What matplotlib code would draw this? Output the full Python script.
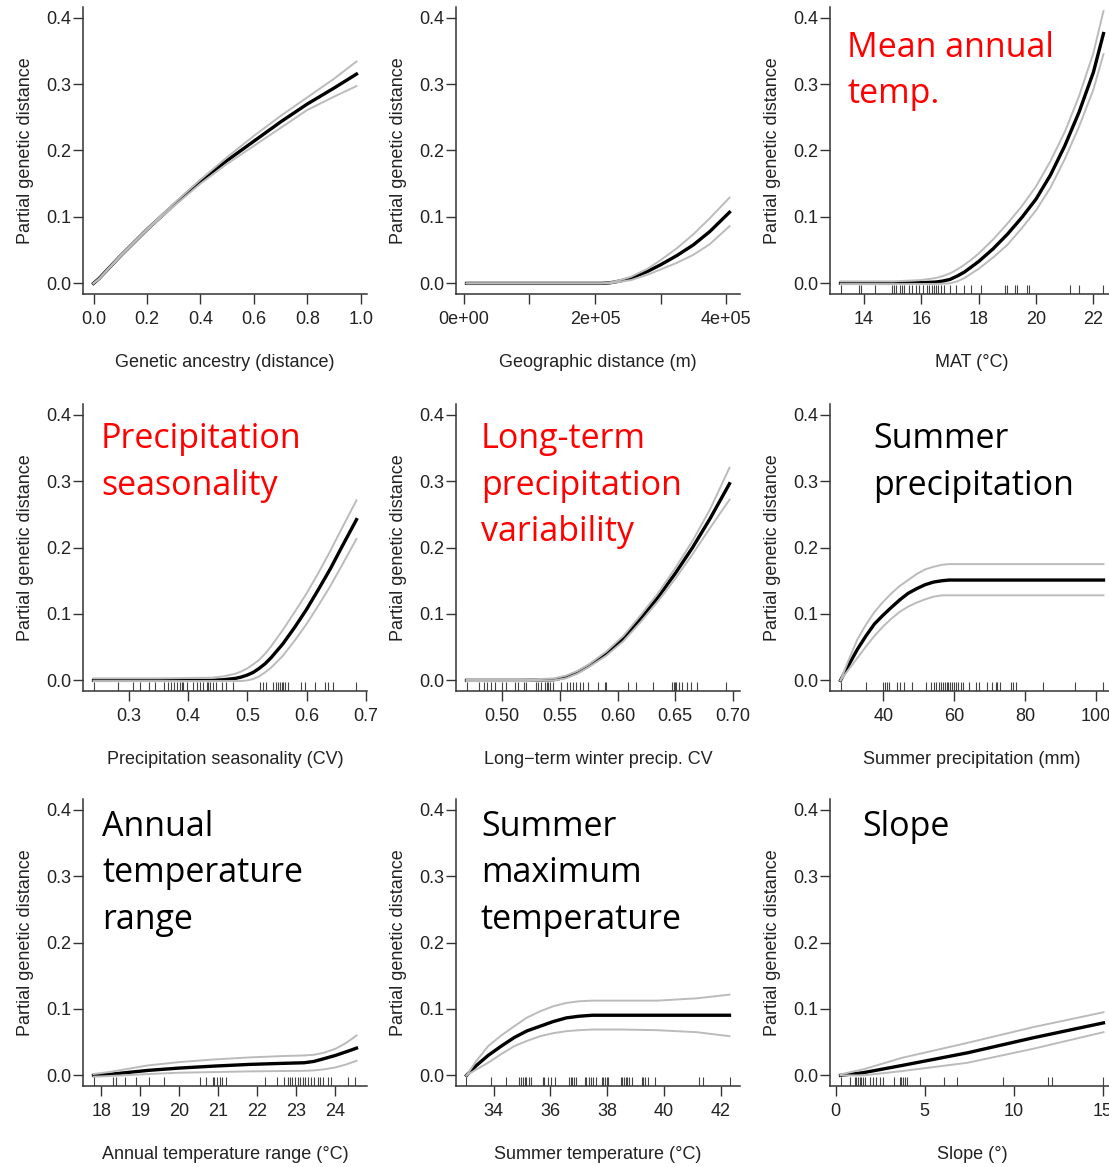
import matplotlib
matplotlib.use('Agg')
import matplotlib.pyplot as plt

plt.rcParams['font.family'] = ['Liberation Sans', 'DejaVu Sans']

# ---- data (x, fitted curve, upper / lower band, rug) ----

# Genetic ancestry
anc_x = [0.0, 0.02, 0.1, 0.2, 0.3, 0.4, 0.5, 0.6, 0.7, 0.8, 0.9, 0.984]
anc_fit = [0.0, 0.007, 0.041, 0.081, 0.118, 0.154, 0.185, 0.214, 0.243, 0.270, 0.294, 0.315]
anc_up = [0.0, 0.007, 0.042, 0.082, 0.120, 0.156, 0.190, 0.222, 0.252, 0.280, 0.308, 0.334]
anc_lo = [0.0, 0.006, 0.040, 0.080, 0.116, 0.150, 0.180, 0.207, 0.234, 0.261, 0.281, 0.297]
anc_rug = []

# Geographic distance
geo_x = [4e3, 1e5, 2.1e5, 2.2e5, 2.3e5, 2.42e5, 2.55e5, 2.8e5, 3.0e5, 3.25e5, 3.5e5, 3.75e5, 4.05e5]
geo_fit = [0.0, 0.0, 0.0, 0.0005, 0.002, 0.0045, 0.008, 0.018, 0.028, 0.042, 0.058, 0.078, 0.107]
geo_up = [0.0, 0.0, 0.0, 0.001, 0.003, 0.006, 0.010, 0.022, 0.035, 0.053, 0.074, 0.098, 0.129]
geo_lo = [0.0, 0.0, 0.0, 0.0, 0.001, 0.003, 0.005, 0.013, 0.021, 0.031, 0.043, 0.059, 0.086]
geo_rug = []

# MAT
mat_x = [13.18, 15.0, 16.0, 16.5, 16.75, 17.0, 17.25, 17.5, 17.75, 18.0, 18.5, 19.0, 19.5, 20.0,
         20.5, 21.0, 21.5, 22.0, 22.35]
mat_fit = [0.0, 0.0, 0.001, 0.002, 0.0035, 0.006, 0.011, 0.017, 0.025, 0.033, 0.052, 0.074, 0.099,
           0.127, 0.163, 0.207, 0.258, 0.318, 0.376]
mat_up = [0.003, 0.003, 0.005, 0.008, 0.011, 0.015, 0.021, 0.028, 0.036, 0.045, 0.066, 0.090,
          0.116, 0.146, 0.184, 0.228, 0.282, 0.347, 0.410]
mat_lo = [-0.001, -0.001, -0.001, -0.001, -0.0005, 0.0, 0.003, 0.008, 0.015, 0.022, 0.039, 0.058,
          0.083, 0.110, 0.144, 0.187, 0.236, 0.292, 0.345]
mat_rug = [13.18, 13.82, 13.9, 14.39, 14.99, 15.05, 15.11, 15.26, 15.34, 15.4, 15.58, 15.66,
           15.81, 15.93, 16.04, 16.2, 16.28, 16.36, 16.43, 16.51, 16.59, 16.69, 16.8, 17.01,
           17.21, 17.48, 17.74, 18.09, 18.91, 18.99, 19.26, 19.34, 19.67, 19.75, 21.18, 21.5, 22.35]

# Precipitation seasonality
ps_x = [0.241, 0.35, 0.44, 0.46, 0.47, 0.48, 0.49, 0.50, 0.51, 0.52, 0.53, 0.54, 0.56, 0.58, 0.60,
        0.62, 0.64, 0.66, 0.684]
ps_fit = [0.0, 0.0, 0.0, 0.001, 0.002, 0.003, 0.005, 0.008, 0.012, 0.018, 0.025, 0.034, 0.055,
          0.080, 0.107, 0.137, 0.168, 0.202, 0.242]
ps_up = [0.003, 0.003, 0.004, 0.006, 0.008, 0.010, 0.0135, 0.018, 0.024, 0.031, 0.040, 0.051,
         0.076, 0.103, 0.131, 0.162, 0.195, 0.230, 0.271]
ps_lo = [-0.001, -0.001, -0.001, -0.001, -0.001, -0.001, -0.001, 0.0, 0.002, 0.006, 0.012, 0.019,
         0.037, 0.060, 0.085, 0.113, 0.142, 0.174, 0.213]
ps_rug = [0.241, 0.283, 0.308, 0.32, 0.334, 0.345, 0.359, 0.367, 0.371, 0.376, 0.381, 0.387,
          0.39, 0.392, 0.398, 0.409, 0.415, 0.42, 0.426, 0.432, 0.434, 0.437, 0.443, 0.448,
          0.457, 0.465, 0.476, 0.521, 0.527, 0.532, 0.544, 0.549, 0.552, 0.555, 0.558, 0.56,
          0.563, 0.569, 0.591, 0.597, 0.614, 0.631, 0.636, 0.645, 0.684]

# Long-term winter precip CV
lt_x = [0.469, 0.52, 0.545, 0.555, 0.565, 0.575, 0.59, 0.605, 0.62, 0.635, 0.65, 0.665, 0.68, 0.697]
lt_fit = [0.0, 0.0, 0.001, 0.005, 0.012, 0.022, 0.040, 0.063, 0.093, 0.125, 0.161, 0.200, 0.243, 0.296]
lt_up = [0.001, 0.001, 0.003, 0.007, 0.014, 0.024, 0.043, 0.067, 0.098, 0.131, 0.169, 0.210, 0.257, 0.320]
lt_lo = [-0.001, -0.001, 0.0, 0.003, 0.010, 0.020, 0.037, 0.059, 0.088, 0.119, 0.153, 0.190, 0.229, 0.272]
lt_rug = [0.469, 0.48, 0.484, 0.487, 0.49, 0.494, 0.5, 0.503, 0.511, 0.514, 0.519, 0.521,
          0.529, 0.531, 0.534, 0.537, 0.539, 0.54, 0.541, 0.544, 0.551, 0.556, 0.559, 0.561,
          0.564, 0.567, 0.57, 0.574, 0.583, 0.589, 0.59, 0.609, 0.616, 0.631, 0.647, 0.649,
          0.65, 0.651, 0.653, 0.656, 0.66, 0.664, 0.669, 0.694]

# Summer precipitation
sp_x = [27.9, 30.3, 32.7, 35.1, 37.5, 39.9, 42.3, 44.6, 47.0, 49.4, 51.8, 54.2, 56.6, 58.5, 60.0,
        80.0, 102.2]
sp_fit = [0.0, 0.024, 0.047, 0.067, 0.085, 0.098, 0.110, 0.121, 0.131, 0.138, 0.144, 0.148, 0.150,
          0.151, 0.151, 0.151, 0.151]
sp_up = [0.0, 0.032, 0.062, 0.084, 0.103, 0.118, 0.131, 0.142, 0.151, 0.160, 0.167, 0.171, 0.174,
         0.175, 0.175, 0.175, 0.175]
sp_lo = [0.0, 0.017, 0.034, 0.051, 0.067, 0.081, 0.093, 0.103, 0.111, 0.117, 0.122, 0.126, 0.128,
         0.128, 0.128, 0.128, 0.128]
sp_rug = [27.9, 35.0, 40.0, 40.4, 40.9, 41.6, 44.0, 44.7, 45.8, 48.2, 52.0, 53.4, 54.2, 54.8,
          55.6, 56.2, 56.9, 57.4, 57.9, 58.4, 58.9, 59.3, 60.0, 60.5, 61.1, 61.9, 62.6, 64.2,
          66.1, 67.0, 69.2, 70.8, 71.7, 72.2, 73.1, 76.0, 76.7, 77.4, 85.2, 94.2, 102.2]

# Annual temperature range
atr_x = [17.8, 18.2, 19.2, 20.0, 20.9, 21.8, 22.6, 23.2, 23.45, 23.7, 23.85, 24.0, 24.25, 24.4, 24.54]
atr_fit = [0.0, 0.0015, 0.0075, 0.011, 0.014, 0.0165, 0.018, 0.019, 0.021, 0.025, 0.0275, 0.030,
           0.035, 0.038, 0.041]
atr_up = [0.002, 0.005, 0.015, 0.020, 0.024, 0.027, 0.029, 0.030, 0.031, 0.034, 0.037, 0.040,
          0.048, 0.054, 0.060]
atr_lo = [-0.002, -0.001, 0.002, 0.004, 0.005, 0.006, 0.0065, 0.0068, 0.0075, 0.009, 0.0105, 0.012,
          0.016, 0.019, 0.022]
atr_rug = [17.81, 18.3, 18.38, 18.6, 18.9, 19.21, 19.6, 20.52, 20.69, 20.86, 20.9, 20.96,
           21.03, 21.1, 21.2, 22.2, 22.5, 22.69, 22.78, 22.84, 22.9, 22.97, 23.03, 23.1,
           23.16, 23.23, 23.29, 23.38, 23.46, 23.55, 23.61, 23.69, 23.8, 23.89, 24.31, 24.51]

# Summer temperature
st_x = [33.05, 33.4, 33.81, 34.27, 34.73, 35.18, 35.64, 36.1, 36.56, 37.0, 37.48, 38.5, 39.77,
        41.15, 42.3]
st_fit = [0.0, 0.015, 0.030, 0.044, 0.057, 0.067, 0.074, 0.081, 0.0865, 0.089, 0.0905, 0.0905,
          0.0905, 0.0905, 0.0905]
st_up = [0.0, 0.022, 0.044, 0.060, 0.074, 0.087, 0.0965, 0.104, 0.109, 0.1115, 0.1125, 0.1125,
         0.1125, 0.116, 0.1215]
st_lo = [0.0, 0.009, 0.019, 0.032, 0.044, 0.052, 0.059, 0.0635, 0.0665, 0.068, 0.069, 0.069,
         0.068, 0.065, 0.059]
st_rug = [33.02, 33.91, 34.44, 34.91, 34.97, 35.03, 35.09, 35.14, 35.24, 35.32, 35.73, 35.79,
          35.91, 36.03, 36.15, 36.65, 36.71, 36.77, 36.83, 36.91, 37.21, 37.27, 37.35, 37.42,
          37.5, 37.62, 37.8, 37.86, 37.92, 37.98, 38.04, 38.47, 38.53, 38.59, 38.65, 38.71,
          38.78, 38.86, 39.22, 39.27, 39.33, 39.42, 39.69, 41.22, 41.37, 42.32]

# Slope
sl_x = [0.28, 1.55, 3.75, 7.42, 11.09, 15.05]
sl_fit = [0.0, 0.004, 0.015, 0.034, 0.0565, 0.079]
sl_up = [0.0015, 0.009, 0.0265, 0.049, 0.0725, 0.095]
sl_lo = [0.0, 0.0, 0.0065, 0.019, 0.040, 0.065]
sl_rug = [0.28, 0.79, 1.07, 1.16, 1.26, 1.35, 1.44, 1.54, 1.67, 1.91, 2.1, 2.29, 2.48, 2.66,
          3.28, 3.6, 3.7, 3.79, 3.88, 4.02, 4.73, 6.08, 6.85, 9.38, 11.91, 12.14, 15.05]

# axis labels, ticks and panel notes
xlabels = ['Genetic ancestry (distance)', 'Geographic distance (m)', 'MAT (\u00b0C)',
           'Precipitation seasonality (CV)', 'Long\u2212term winter precip. CV', 'Summer precipitation (mm)',
           'Annual temperature range (\u00b0C)', 'Summer temperature (\u00b0C)', 'Slope (\u00b0)']
xticks = [[0.0, 0.2, 0.4, 0.6, 0.8, 1.0], [0, 1e5, 2e5, 3e5, 4e5], [14, 16, 18, 20, 22],
          [0.3, 0.4, 0.5, 0.6, 0.7], [0.50, 0.55, 0.60, 0.65, 0.70], [40, 60, 80, 100],
          [18, 19, 20, 21, 22, 23, 24], [34, 36, 38, 40, 42], [0, 5, 10, 15]]
xticklabels = [['0.0', '0.2', '0.4', '0.6', '0.8', '1.0'], ['0e+00', '', '2e+05', '', '4e+05'],
               ['14', '16', '18', '20', '22'], ['0.3', '0.4', '0.5', '0.6', '0.7'],
               ['0.50', '0.55', '0.60', '0.65', '0.70'], ['40', '60', '80', '100'],
               ['18', '19', '20', '21', '22', '23', '24'], ['34', '36', '38', '40', '42'],
               ['0', '5', '10', '15']]
yticks = [0.0, 0.1, 0.2, 0.3, 0.4]
ytick_labels = ['0.0', '0.1', '0.2', '0.3', '0.4']
notes = ['', '', 'Mean annual\ntemp.',
         'Precipitation\nseasonality', 'Long-term\nprecipitation\nvariability', 'Summer\nprecipitation',
         'Annual\ntemperature\nrange', 'Summer\nmaximum\ntemperature', 'Slope']
note_colors = ['black', 'black', 'red', 'red', 'red', 'black', 'black', 'black', 'black']
note_x = [0, 0, 0.06, 0.063, 0.088, 0.151, 0.067, 0.088, 0.113]

curves = [(anc_x, anc_fit, anc_up, anc_lo, anc_rug), (geo_x, geo_fit, geo_up, geo_lo, geo_rug),
          (mat_x, mat_fit, mat_up, mat_lo, mat_rug), (ps_x, ps_fit, ps_up, ps_lo, ps_rug),
          (lt_x, lt_fit, lt_up, lt_lo, lt_rug), (sp_x, sp_fit, sp_up, sp_lo, sp_rug),
          (atr_x, atr_fit, atr_up, atr_lo, atr_rug), (st_x, st_fit, st_up, st_lo, st_rug),
          (sl_x, sl_fit, sl_up, sl_lo, sl_rug)]

# ---- layout in pixels ----
W, H = 1109, 1167
col_left = [83, 456, 830]
row_top = [7, 404, 799]
ax_w, ax_h = 284, 287
note_y = [0.918, 0.937, 0.962]

fig = plt.figure(figsize=(W / 100, H / 100), dpi=100)

for i, (x, fit, up, lo, rug) in enumerate(curves):
    r, c = divmod(i, 3)
    ax = fig.add_axes([col_left[c] / W, 1 - (row_top[r] + ax_h) / H, ax_w / W, ax_h / H])

    ax.plot(x, fit, color='black', lw=2.4)
    ax.plot(x, up, color='#bbbbbb', lw=1.4)
    ax.plot(x, lo, color='#bbbbbb', lw=1.4)
    if rug:
        ax.vlines(rug, 0, 0.03, transform=ax.get_xaxis_transform(), color='#444444', lw=0.8)

    # R style 4% axis extension
    pad = 0.04 * (max(x) - min(x))
    ax.set_xlim(min(x) - pad, max(x) + pad)
    ax.set_ylim(-0.016, 0.416)

    ax.set_xticks(xticks[i])
    ax.set_xticklabels(xticklabels[i])
    ax.set_yticks(yticks)
    ax.set_yticklabels(ytick_labels)

    for side in ['top', 'right']:
        ax.spines[side].set_visible(False)
    for side in ['left', 'bottom']:
        ax.spines[side].set_linewidth(1.1)
        ax.spines[side].set_color('#333333')
    ax.tick_params(axis='both', length=7.5, width=1.0, color='#333333', labelsize=13, labelcolor='#222222')
    ax.tick_params(axis='x', pad=4.5)
    ax.tick_params(axis='y', pad=1)

    ax.set_xlabel(xlabels[i], fontsize=13, color='#222222', labelpad=19)
    ax.set_ylabel('Partial genetic distance', fontsize=13, color='#222222', labelpad=9)

    if notes[i]:
        ax.text(note_x[i], note_y[r], notes[i], transform=ax.transAxes, ha='left', va='top',
                fontsize=24.5, family=['Open Sans', 'DejaVu Sans'], color=note_colors[i],
                linespacing=1.48)

fig.savefig('out.png', dpi=100)
